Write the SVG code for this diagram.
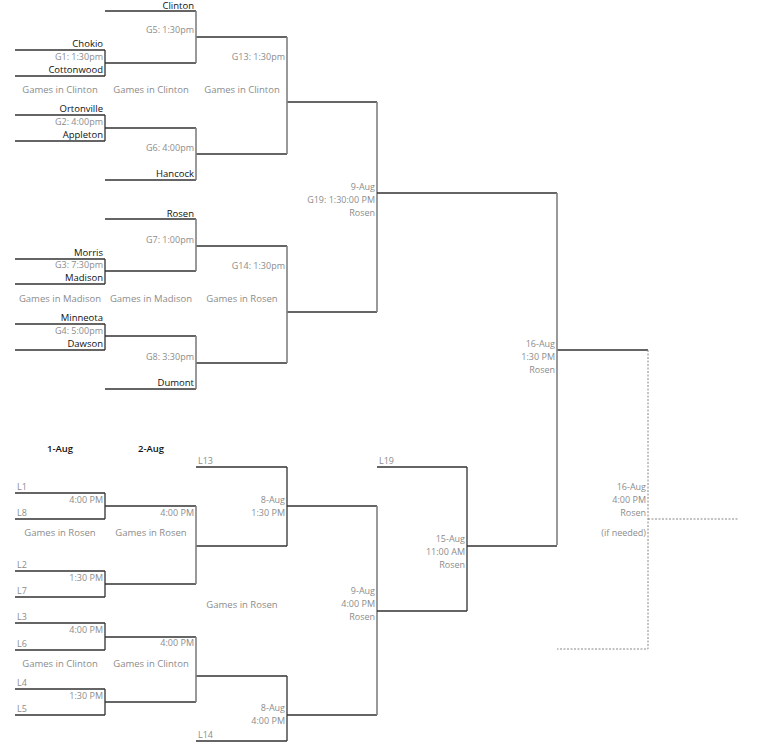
<svg xmlns="http://www.w3.org/2000/svg" width="776" height="750" viewBox="0 0 776 750">
<style>
text{font-family:"Open Sans","Liberation Sans",sans-serif;font-size:9px}
.t{fill:#111;font-size:9.5px}
.g{fill:#8c8c8c}
.r{text-anchor:end}
.m{text-anchor:middle}
.s{font-size:9.5px}
.h{fill:#111;font-weight:600;font-size:9.5px}
.d{stroke:#333;stroke-width:1.3;fill:none}
.v{stroke:#808080;stroke-width:1.6;fill:none}
.x{stroke:#888;stroke-width:1;stroke-dasharray:2,1.5;fill:none}
</style>
<rect width="776" height="750" fill="#fff"/>
<g id="connectors">
<path class="d" d="M105 11H196M15 50H105M15 76H105M105 63H196M196 37H287M15 115H105M15 141H105M105 128H196M105 180H196M196 154H287M287 102H377"/>
<path class="d" d="M105 50V76M105 115V141"/>
<path class="v" d="M196 11V63M196 128V180M287 37V154"/>
<path class="d" d="M105 219H196M15 259H105M15 284H105M105 271H196M196 246H287M15 324H105M15 350H105M105 336H196M105 389H196M196 363H287M287 312H377"/>
<path class="d" d="M105 259V284M105 324V350"/>
<path class="v" d="M196 219V271M196 336V389M287 246V363M377 102V312"/>
<path class="d" d="M377 193H557M557 350H648"/>
<path class="v" d="M557 193V545"/>
<path class="d" d="M196 467H287M15 493H105M15 519H105M105 506H196M196 546H287M287 506H377M15 571H105M15 597H105M105 584H196"/>
<path class="d" d="M105 493V519M105 571V597M287 467V546"/>
<path class="v" d="M196 506V584"/>
<path class="d" d="M15 623H105M15 650H105M105 637H196M15 689H105M15 715H105M105 702H196M196 676H287M196 741H287M287 715H377"/>
<path class="d" d="M105 623V650M105 689V715M287 676V741"/>
<path class="v" d="M196 637V702M377 506V715"/>
<path class="d" d="M377 467H467M377 611H467M467 467V611M467 546H557"/>
<path class="x" d="M648 350V649H557M648 519H739"/>
</g>
<g id="g1"><text class="t r" x="103" y="47">Chokio</text><text class="g r" x="103" y="60">G1: 1:30pm</text><text class="t r" x="103" y="73">Cottonwood</text></g>
<g id="g2"><text class="t r" x="103" y="112">Ortonville</text><text class="g r" x="103" y="125">G2: 4:00pm</text><text class="t r" x="103" y="138">Appleton</text></g>
<g id="g5"><text class="t r" x="194" y="9">Clinton</text><text class="g r" x="194" y="33">G5: 1:30pm</text></g>
<g id="g6"><text class="g r" x="194" y="151">G6: 4:00pm</text><text class="t r" x="194" y="177">Hancock</text></g>
<g id="g13"><text class="g r" x="285" y="60">G13: 1:30pm</text></g>
<g id="sites1"><text class="g m s" x="60" y="93">Games in Clinton</text><text class="g m s" x="151" y="93">Games in Clinton</text><text class="g m s" x="242" y="93">Games in Clinton</text></g>
<g id="g3"><text class="t r" x="103" y="256">Morris</text><text class="g r" x="103" y="268">G3: 7:30pm</text><text class="t r" x="103" y="281">Madison</text></g>
<g id="g4"><text class="t r" x="103" y="321">Minneota</text><text class="g r" x="103" y="334">G4: 5:00pm</text><text class="t r" x="103" y="347">Dawson</text></g>
<g id="g7"><text class="t r" x="194" y="217">Rosen</text><text class="g r" x="194" y="243">G7: 1:00pm</text></g>
<g id="g8"><text class="g r" x="194" y="360">G8: 3:30pm</text><text class="t r" x="194" y="386">Dumont</text></g>
<g id="g14"><text class="g r" x="285" y="269">G14: 1:30pm</text></g>
<g id="sites2"><text class="g m s" x="60" y="302">Games in Madison</text><text class="g m s" x="151" y="302">Games in Madison</text><text class="g m s" x="242" y="302">Games in Rosen</text></g>
<g id="g19"><text class="g r" x="375" y="190">9-Aug</text><text class="g r" x="375" y="203">G19: 1:30:00 PM</text><text class="g r" x="375" y="216">Rosen</text></g>
<g id="final"><text class="g r" x="555" y="347">16-Aug</text><text class="g r" x="555" y="360">1:30 PM</text><text class="g r" x="555" y="373">Rosen</text></g>
<g id="final2"><text class="g r" x="646" y="490">16-Aug</text><text class="g r" x="646" y="503">4:00 PM</text><text class="g r" x="646" y="516">Rosen</text><text class="g r" x="646" y="536">(if needed)</text></g>
<g id="dates"><text class="h m" x="60" y="452">1-Aug</text><text class="h m" x="151" y="452">2-Aug</text></g>
<g id="lb1"><text class="g" x="17" y="490">L1</text><text class="g r" x="103" y="503">4:00 PM</text><text class="g" x="17" y="516">L8</text></g>
<g id="lb2"><text class="g" x="17" y="568">L2</text><text class="g r" x="103" y="581">1:30 PM</text><text class="g" x="17" y="594">L7</text></g>
<g id="lb3"><text class="g" x="17" y="620">L3</text><text class="g r" x="103" y="633">4:00 PM</text><text class="g" x="17" y="647">L6</text></g>
<g id="lb4"><text class="g" x="17" y="686">L4</text><text class="g r" x="103" y="699">1:30 PM</text><text class="g" x="17" y="712">L5</text></g>
<g id="lb5"><text class="g r" x="194" y="516">4:00 PM</text></g>
<g id="lb6"><text class="g r" x="194" y="646">4:00 PM</text></g>
<g id="lb7"><text class="g" x="198" y="464">L13</text><text class="g r" x="285" y="503">8-Aug</text><text class="g r" x="285" y="516">1:30 PM</text></g>
<g id="lb8"><text class="g r" x="285" y="711">8-Aug</text><text class="g r" x="285" y="724">4:00 PM</text><text class="g" x="198" y="738">L14</text></g>
<g id="lb9"><text class="g r" x="375" y="594">9-Aug</text><text class="g r" x="375" y="607">4:00 PM</text><text class="g r" x="375" y="620">Rosen</text></g>
<g id="lb10"><text class="g" x="379" y="464">L19</text><text class="g r" x="465" y="542">15-Aug</text><text class="g r" x="465" y="555">11:00 AM</text><text class="g r" x="465" y="568">Rosen</text></g>
<g id="sites3"><text class="g m s" x="60" y="536">Games in Rosen</text><text class="g m s" x="151" y="536">Games in Rosen</text><text class="g m s" x="242" y="608">Games in Rosen</text><text class="g m s" x="60" y="667">Games in Clinton</text><text class="g m s" x="151" y="667">Games in Clinton</text></g>
</svg>
